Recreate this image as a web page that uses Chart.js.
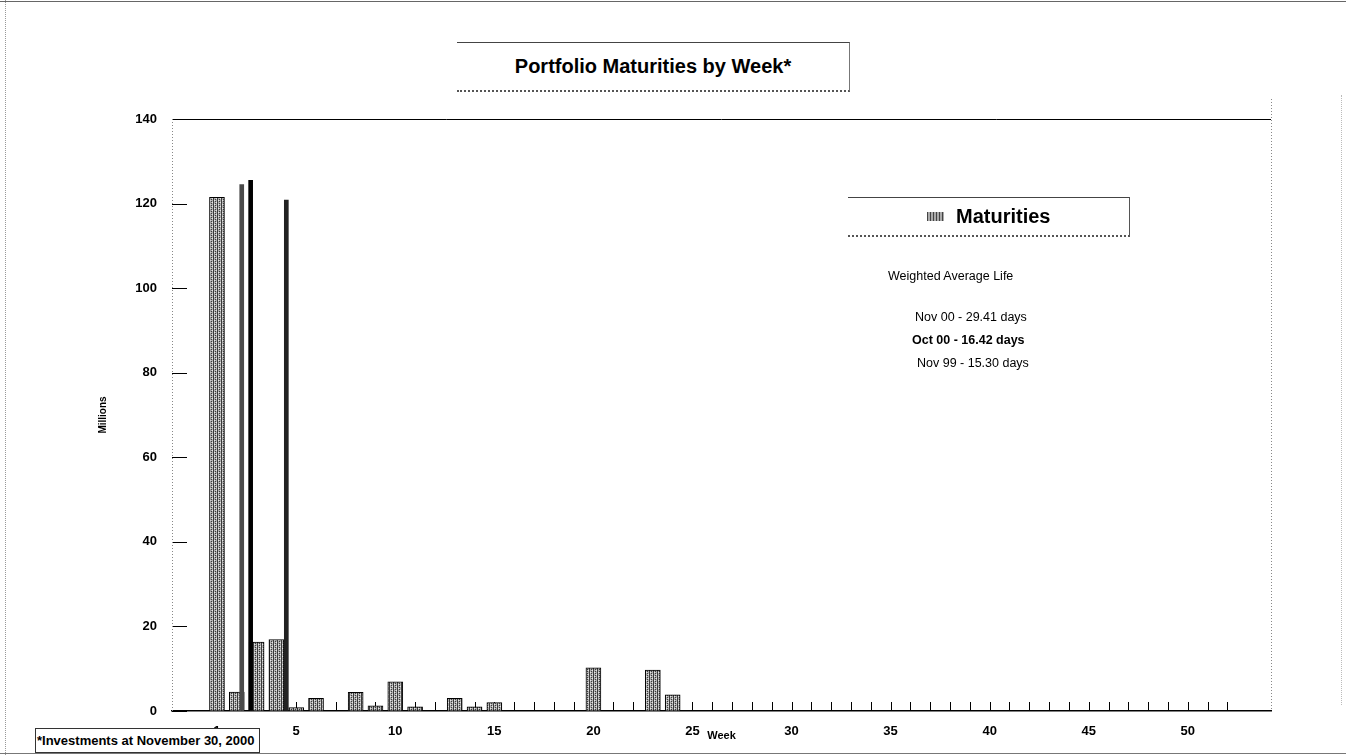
<!DOCTYPE html>
<html>
<head>
<meta charset="utf-8">
<script src="https://cdn.jsdelivr.net/npm/chart.js@4.4.1/dist/chart.umd.min.js"></script>
<style>
  html, body { margin: 0; padding: 0; background: #fff; }
  #wrap { position: relative; width: 1346px; height: 755px; overflow: hidden;
          font-family: "Liberation Sans", Arial, sans-serif; color: #000; }
  #myChart { position: absolute; left: 0; top: 0; }
  .box { position: absolute; background: #fff; box-sizing: border-box; }
  #titleBox { left: 457px; top: 42px; width: 393px; height: 50px;
              border-top: 1px solid #444; border-right: 1px solid #777; border-bottom: 2px dotted #555;
              font-weight: bold; font-size: 20px; text-align: center; line-height: 46px; }
  #legendBox { left: 848px; top: 197px; width: 282px; height: 40px;
               border-top: 1px solid #444; border-right: 1px solid #555; border-bottom: 2px dotted #555;
               font-weight: bold; font-size: 20px; line-height: 36px; }
  #legendBox .sw { position: absolute; left: 79px; top: 14px; width: 17px; height: 9px;
                   background: repeating-linear-gradient(90deg, #444 0 1px, #aaa 1px 3px); }
  #legendBox .lb { position: absolute; left: 108px; top: 0; }
  .note { position: absolute; font-size: 12.5px; line-height: 14px; white-space: nowrap; }
  #foot { left: 35px; top: 728px; width: 225px; height: 25px; border: 1px solid #333;
          font-weight: bold; font-size: 13px; line-height: 23px; padding-left: 1px; white-space: nowrap; }
  #pageTop { position: absolute; left: 0; top: 1px; width: 1346px; border-top: 1px solid #666; }
  #pageBottom { position: absolute; left: 0; top: 753px; width: 1346px; border-top: 1px solid #777; }
  #pageLeft { position: absolute; left: 5px; top: 0; height: 755px; border-left: 1px dotted #999; }
  #pageRight { position: absolute; left: 1341px; top: 95px; height: 610px; border-left: 1px dotted #bbb; }
</style>
</head>
<body>
<div id="wrap">
  <canvas id="myChart" width="1346" height="755"></canvas>
  <div id="pageTop"></div>
  <div id="pageBottom"></div>
  <div id="pageLeft"></div>
  <div id="pageRight"></div>
  <div id="titleBox" class="box"></div>
  <div id="legendBox" class="box"><span class="sw"></span><span class="lb"></span></div>
  <div id="wal"></div>
  <div id="foot" class="box"></div>
</div>
<script>
// weeks 1..52
const weeks = [1, 2, 3, 4, 5, 6, 7, 8, 9, 10, 11, 12, 13, 14, 15, 16, 17, 18, 19, 20,
               21, 22, 23, 24, 25, 26, 27, 28, 29, 30, 31, 32, 33, 34, 35, 36, 37, 38, 39, 40,
               41, 42, 43, 44, 45, 46, 47, 48, 49, 50, 51, 52];
// maturities in millions
const maturities = [121.5, 4.5, 16.3, 16.9, 0.8, 3.0, 0, 4.4, 1.2, 6.9, 1.0, 0, 3.0, 1.0, 2.0, 0, 0, 0, 0, 10.2,
                    0, 0, 9.7, 3.8, 0, 0, 0, 0, 0, 0, 0, 0, 0, 0, 0, 0, 0, 0, 0, 0,
                    0, 0, 0, 0, 0, 0, 0, 0, 0, 0, 0, 0];
// the thin tall bars squeezed between weeks 2-5
const spikeWeeks = [2.25, 2.7, 4.5];
const spikeValues = [124.5, 125.5, 120.8];
const spikeColors = ['#4a4a4a', '#000000', '#222222'];

const xTickLabels = [1, 5, 10, 15, 20, 25, 30, 35, 40, 45, 50];
const yTickLabels = [0, 20, 40, 60, 80, 100, 120, 140];

const chartTitle = 'Portfolio Maturities by Week*';
const seriesName = 'Maturities';
const walTitle = 'Weighted Average Life';
const walLines = ['Nov 00 - 29.41 days', 'Oct 00 - 16.42 days', 'Nov 99 - 15.30 days'];
const footNote = '*Investments at November 30, 2000';

// text overlays
document.getElementById('titleBox').textContent = chartTitle;
document.querySelector('#legendBox .lb').textContent = seriesName;
document.getElementById('foot').textContent = footNote;
const wal = document.getElementById('wal');
const notePos = [[888, 269, 'normal'], [915, 310, 'normal'], [912, 333, 'bold'], [917, 356, 'normal']];
[walTitle].concat(walLines).forEach((t, i) => {
    const d = document.createElement('div');
    d.className = 'note';
    d.style.left = notePos[i][0] + 'px';
    d.style.top = notePos[i][1] + 'px';
    d.style.fontWeight = notePos[i][2];
    d.textContent = t;
    wal.appendChild(d);
});

// halftone-ish fill like the scanned bars
function makePattern() {
    const c = document.createElement('canvas');
    c.width = 4; c.height = 4;
    const g = c.getContext('2d');
    g.fillStyle = '#b0b0b0';
    g.fillRect(0, 0, 4, 4);
    g.fillStyle = '#3a3a3a';
    g.fillRect(1, 0, 1, 4);
    g.fillRect(3, 1, 1, 1);
    g.fillRect(3, 3, 1, 1);
    g.fillStyle = '#e6e6e6';
    g.fillRect(2, 0, 1, 1);
    g.fillRect(0, 2, 1, 1);
    return g.createPattern(c, 'repeat');
}
const barFill = makePattern();

// inward tick marks on both axes, dotted y axis and right frame
const axisMarks = {
    id: 'axisMarks',
    beforeDatasetsDraw(chart) {
        const {ctx, chartArea, scales} = chart;
        ctx.save();
        ctx.strokeStyle = '#000';
        ctx.lineWidth = 1;
        weeks.forEach((w) => {
            const x = Math.round(scales.x.getPixelForValue(w)) + 0.5;
            ctx.beginPath();
            ctx.moveTo(x, chartArea.bottom);
            ctx.lineTo(x, chartArea.bottom - 9);
            ctx.stroke();
        });
        yTickLabels.forEach((v) => {
            const y = Math.round(scales.y.getPixelForValue(v)) + 0.5;
            ctx.beginPath();
            ctx.moveTo(chartArea.left, y);
            ctx.lineTo(chartArea.left + 15, y);
            ctx.stroke();
        });
        ctx.strokeStyle = '#888';
        ctx.setLineDash([1, 2]);
        ctx.beginPath();
        ctx.moveTo(chartArea.left + 0.5, chartArea.top);
        ctx.lineTo(chartArea.left + 0.5, chartArea.bottom);
        ctx.moveTo(chartArea.right + 0.5, chartArea.top - 20);
        ctx.lineTo(chartArea.right + 0.5, chartArea.bottom);
        ctx.stroke();
        ctx.restore();
    }
};

const chartData = {
    datasets: [{
        label: seriesName,
        data: weeks.map((w, i) => ({x: w, y: maturities[i]})),
        backgroundColor: barFill,
        borderColor: '#000',
        borderWidth: 1,
        barThickness: 15,
        grouped: false,
        order: 2
    }, {
        label: 'spikes',
        data: spikeWeeks.map((w, i) => ({x: w, y: spikeValues[i]})),
        backgroundColor: spikeColors,
        borderWidth: 0,
        barThickness: 4,
        grouped: false,
        order: 1
    }]
};

new Chart(document.getElementById('myChart'), {
    type: 'bar',
    data: chartData,
    plugins: [axisMarks],
    options: {
        responsive: false,
        animation: false,
        devicePixelRatio: 1,
        layout: {padding: {left: 0, right: 75, top: 119, bottom: 0}},
        plugins: {
            legend: {display: false},
            tooltip: {enabled: false}
        },
        scales: {
            x: {
                type: 'linear',
                offset: false,
                min: -1.27,
                max: 54.2,
                afterBuildTicks: (scale) => { scale.ticks = xTickLabels.map((v) => ({value: v})); },
                afterFit: (scale) => { scale.height = 44; },
                grid: {display: false, drawTicks: false},
                border: {display: true, color: '#000', width: 1.5},
                ticks: {
                    color: '#000',
                    padding: 13,
                    maxRotation: 0,
                    autoSkip: false,
                    font: {family: '"Liberation Sans", Arial', size: 13, weight: 'bold'}
                },
                title: {
                    display: true,
                    text: 'Week',
                    color: '#000',
                    padding: {top: 0, bottom: 12},
                    font: {family: '"Liberation Sans", Arial', size: 11, weight: 'bold'}
                }
            },
            y: {
                min: 0,
                max: 140,
                afterBuildTicks: (scale) => { scale.ticks = yTickLabels.map((v) => ({value: v})); },
                afterFit: (scale) => { scale.width = 172; },
                grid: {
                    drawTicks: false,
                    color: (c) => (c.tick && c.tick.value === 140 ? '#000' : 'rgba(0,0,0,0)')
                },
                border: {display: false},
                ticks: {
                    color: '#000',
                    padding: 15,
                    font: {family: '"Liberation Sans", Arial', size: 13, weight: 'bold'}
                },
                title: {
                    display: true,
                    text: 'Millions',
                    color: '#000',
                    padding: {top: 97, bottom: 0},
                    font: {family: '"Liberation Sans", Arial', size: 10, weight: 'bold'}
                }
            }
        }
    }
});
</script>
</body>
</html>
